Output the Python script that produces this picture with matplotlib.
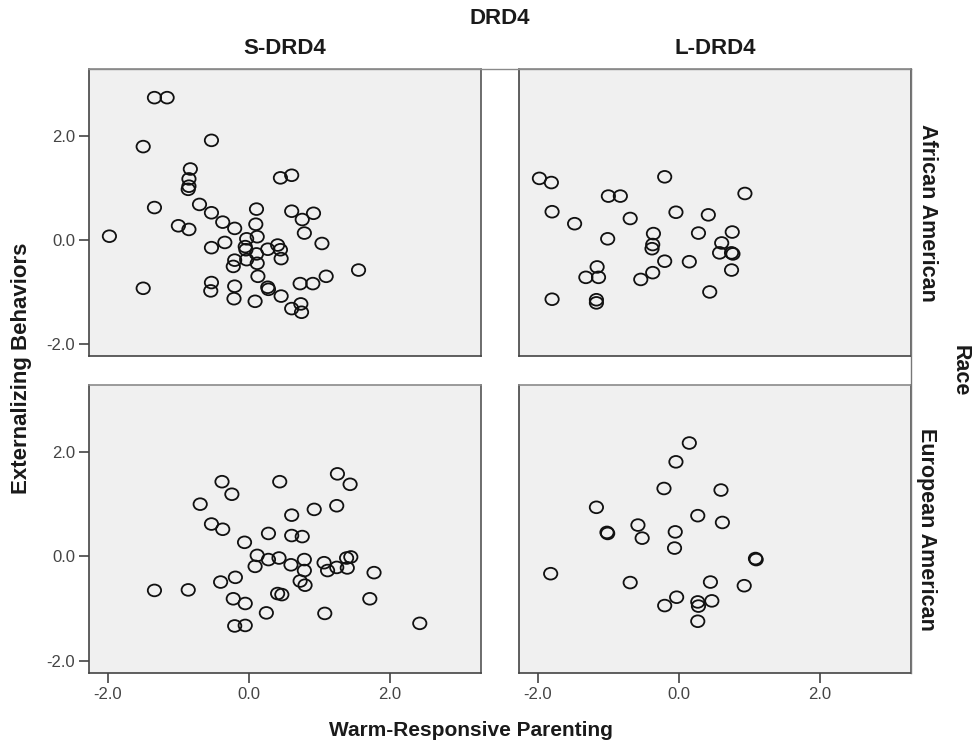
import matplotlib
matplotlib.use("Agg")
import matplotlib.pyplot as plt
from matplotlib.path import Path
from matplotlib.lines import Line2D

plt.rcParams["font.family"] = ["Liberation Sans", "DejaVu Sans"]
plt.rcParams["axes.unicode_minus"] = False

# S-DRD4 / African American
tl_x = [-1.34, -1.16, -1.50, -0.53, -0.83, -0.85, -0.85, -0.86, 0.45, 0.61,
        -1.34, -0.70, -0.53, -0.37, -0.20, 0.11, 0.10, 0.12, -0.03, -0.05,
        -0.04, -1.00, -0.85, -1.98, -0.53, -0.34, 0.61, 0.76, 0.92, 0.79,
        1.04, 0.27, 0.41, 0.45, 0.46, 0.11, 0.12, -0.03, -0.20, -0.22,
        0.13, 1.56, 1.10, 0.91, 0.73, 0.27, 0.28, 0.46, -1.50, -0.53,
        -0.54, -0.20, -0.21, 0.09, 0.61, 0.74, 0.75]
tl_y = [2.73, 2.73, 1.79, 1.91, 1.36, 1.17, 1.03, 0.97, 1.19, 1.24,
        0.62, 0.68, 0.52, 0.34, 0.22, 0.59, 0.30, 0.06, 0.02, -0.13,
        -0.19, 0.27, 0.20, 0.07, -0.15, -0.05, 0.55, 0.39, 0.51, 0.13,
        -0.07, -0.18, -0.10, -0.19, -0.36, -0.27, -0.45, -0.38, -0.39, -0.51,
        -0.70, -0.58, -0.70, -0.84, -0.84, -0.91, -0.95, -1.08, -0.93, -0.82,
        -0.98, -0.89, -1.13, -1.18, -1.32, -1.23, -1.39]

# L-DRD4 / African American
tr_x = [-1.98, -1.81, -0.20, 0.94, -1.00, -0.83, -1.80, -1.48, -0.69, -0.04,
        0.42, -0.36, -0.37, -0.38, -1.01, 0.28, 0.76, 0.61, 0.58, 0.75,
        0.77, -0.20, 0.15, 0.75, -1.16, -1.32, -1.14, -0.37, -0.54, 0.44,
        -1.80, -1.17, -1.17]
tr_y = [1.18, 1.10, 1.21, 0.89, 0.84, 0.84, 0.54, 0.31, 0.41, 0.53,
        0.48, 0.12, -0.09, -0.17, 0.02, 0.13, 0.15, -0.06, -0.25, -0.25,
        -0.27, -0.41, -0.42, -0.58, -0.52, -0.72, -0.72, -0.63, -0.76, -1.00,
        -1.14, -1.15, -1.21]

# S-DRD4 / European American
bl_x = [-0.38, -0.24, 0.44, 1.26, 1.44, -0.69, 1.25, 0.93, 0.61, -0.53,
        -0.37, -0.06, 0.28, 0.61, 0.76, 0.12, 0.28, 0.43, 0.09, 0.60,
        0.79, 0.79, 1.07, 1.12, 1.25, 1.40, 1.39, 1.45, 1.78, -1.34,
        -0.86, -0.40, -0.19, 0.73, 0.80, 0.41, 0.47, -0.22, -0.05, 0.25,
        1.08, 1.72, -0.20, -0.05, 2.43]
bl_y = [1.43, 1.19, 1.43, 1.58, 1.38, 1.00, 0.97, 0.90, 0.79, 0.62,
        0.52, 0.27, 0.44, 0.40, 0.38, 0.02, -0.06, -0.03, -0.19, -0.16,
        -0.06, -0.27, -0.12, -0.27, -0.21, -0.22, -0.03, -0.01, -0.31, -0.65,
        -0.64, -0.49, -0.40, -0.47, -0.55, -0.71, -0.73, -0.81, -0.90, -1.08,
        -1.09, -0.81, -1.33, -1.32, -1.28]

# L-DRD4 / European American
br_x = [0.15, -0.04, -0.21, 0.60, -1.17, 0.27, 0.62, -1.02, -1.01, -0.58,
        -0.52, -0.05, -0.06, 1.09, 1.10, -1.82, -0.69, 0.45, 0.93, -0.03,
        -0.20, 0.27, 0.28, 0.47, 0.27]
br_y = [2.17, 1.81, 1.30, 1.27, 0.94, 0.78, 0.65, 0.46, 0.44, 0.60,
        0.35, 0.47, 0.16, -0.04, -0.06, -0.33, -0.50, -0.49, -0.56, -0.78,
        -0.94, -0.87, -0.95, -0.85, -1.24]

col_labels = ["S-DRD4", "L-DRD4"]
row_labels = ["African American", "European American"]
ticks = [-2.0, 0.0, 2.0]
tick_labels = ["-2.0", "0.0", "2.0"]

W, H = 975, 746
fig = plt.figure(figsize=(W / 100, H / 100), dpi=100)

# panel rectangles in pixels (left, top, right, bottom)
cols_px = [(89, 481), (519, 911)]
rows_px = [(69, 356), (385, 673)]

data = [[(tl_x, tl_y), (tr_x, tr_y)],
        [(bl_x, bl_y), (br_x, br_y)]]

circ = Path.unit_circle()
oval = Path(circ.vertices * [1.0, 0.88], circ.codes)

for r, (top, bot) in enumerate(rows_px):
    for c, (lft, rgt) in enumerate(cols_px):
        ax = fig.add_axes([lft / W, 1 - bot / H, (rgt - lft) / W, (bot - top) / H])
        ax.set_facecolor("#f0f0f0")
        xs, ys = data[r][c]
        ax.scatter(xs, ys, s=92, marker=oval, facecolors="none",
                   edgecolors="#111111", linewidths=1.3, zorder=3)
        ax.set_xlim(-2.27, 3.30)
        ax.set_ylim(-2.23, 3.28)
        for side in ["left", "bottom", "right", "top"]:
            ax.spines[side].set_color("#444444")
            ax.spines[side].set_linewidth(1.2)
        ax.spines["top"].set_color("#8a8a8a")
        ax.spines["right"].set_color("#555555")
        ax.tick_params(direction="out", length=7, width=1.2, color="#444444",
                       labelsize=12, labelcolor="#444444", pad=3)
        ax.set_xticks(ticks)
        ax.set_yticks(ticks)
        if r == 1:
            ax.set_xticklabels(tick_labels)
        else:
            ax.tick_params(axis="x", length=0, labelbottom=False)
        if c == 0:
            ax.set_yticklabels(tick_labels)
        else:
            ax.tick_params(axis="y", length=0, labelleft=False)

# frame lines running across the gaps
fig.add_artist(Line2D([89 / W, 911 / W], [1 - 69 / H, 1 - 69 / H],
                      color="#8a8a8a", lw=1.0))
fig.add_artist(Line2D([911 / W, 911 / W], [1 - 69 / H, 1 - 673 / H],
                      color="#777777", lw=1.0))

# headers
fig.text(500 / W, 1 - 19 / H, "DRD4", ha="center", va="center",
         fontsize=16, fontweight="bold", color="#1a1a1a")
for c, (lft, rgt) in enumerate(cols_px):
    fig.text((lft + rgt) / 2 / W, 1 - 48 / H, col_labels[c], ha="center",
             va="center", fontsize=16, fontweight="bold", color="#1a1a1a")
for r, (top, bot) in enumerate(rows_px):
    fig.text(927 / W, 1 - (top + bot) / 2 / H, row_labels[r], ha="center",
             va="center", rotation=-90, fontsize=15.5, fontweight="bold",
             color="#1a1a1a")
fig.text(960 / W, 1 - 371 / H, "Race", ha="center", va="center",
         rotation=-90, fontsize=15.5, fontweight="bold", color="#1a1a1a")

fig.text(22 / W, 1 - 368 / H, "Externalizing Behaviors", ha="center",
         va="center", rotation=90, fontsize=16, fontweight="bold",
         color="#1a1a1a")
fig.text(471 / W, 1 - 731 / H, "Warm-Responsive Parenting", ha="center",
         va="center", fontsize=15, fontweight="bold", color="#1a1a1a")

fig.savefig("out.png", dpi=100)
